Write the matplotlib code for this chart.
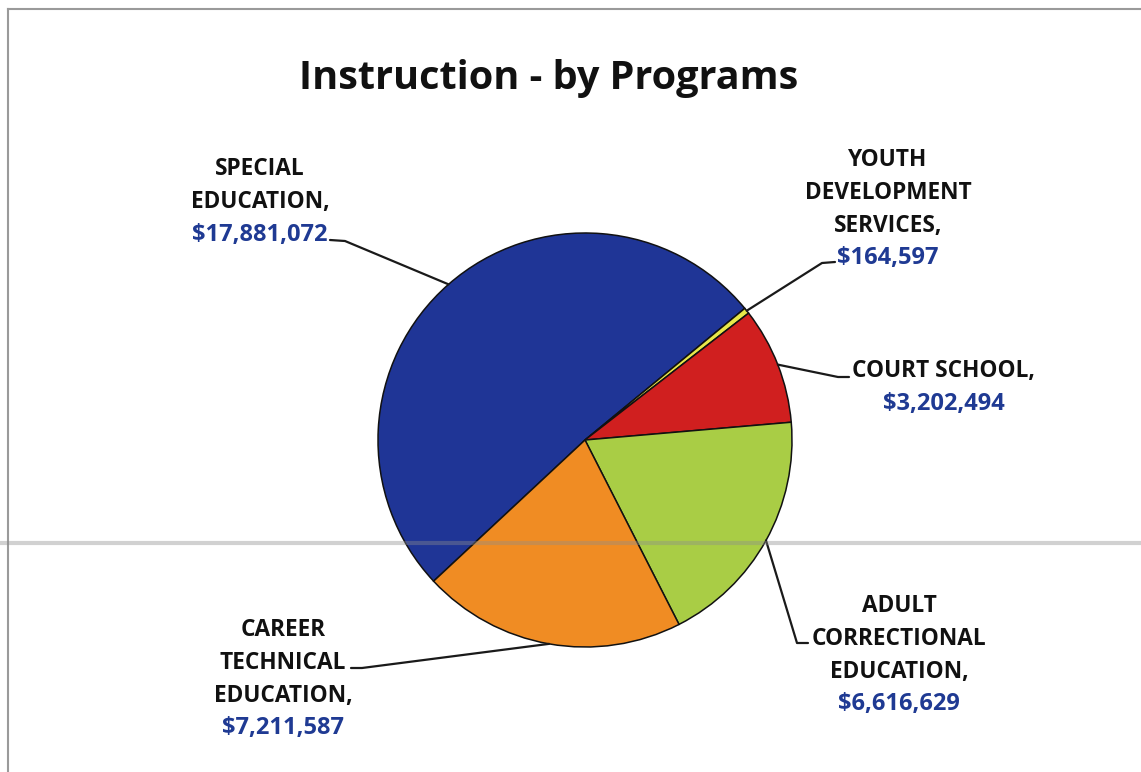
import numpy as np
import matplotlib
matplotlib.use('Agg')
import matplotlib.pyplot as plt

# ============================================================
# Data
# ============================================================

programs = [
    ['SPECIAL', 'EDUCATION,'],
    ['YOUTH', 'DEVELOPMENT', 'SERVICES,'],
    ['COURT SCHOOL,'],
    ['ADULT', 'CORRECTIONAL', 'EDUCATION,'],
    ['CAREER', 'TECHNICAL', 'EDUCATION,'],
]
amounts = [17881072, 164597, 3202494, 6616629, 7211587]
colors = ['#1F3596', '#E8E84A', '#D01F1F', '#A9CD45', '#F08C23']

# ============================================================
# Layout (pixel positions on a 1141x772 canvas)
# ============================================================

W, H = 1141, 772
CX, CY, R = 585, 440, 207
START = 223.0

# label line centres: (x, first line y)
label_pos = [(260, 167), (888, 158), (944, 369), (899, 604), (283, 628)]
LINE_STEP = 32.8
# leader line: end near label, elbow
leader_pts = [
    ((330, 240), (345, 241)),
    ((835, 262), (822, 263)),
    ((849, 377), (838, 377)),
    ((808, 643), (797, 643)),
    ((351, 668), (362, 668)),
]

BLACK = '#111111'
VALUE_BLUE = '#1F3A93'
FONT = 'Open Sans'
NAME_SIZE = 16.3
VALUE_SIZE = 17.0


def px(x, y):
    return (x - CX) / R, (CY - y) / R


fig = plt.figure(figsize=(W / 100, H / 100), dpi=100)
fig.patch.set_facecolor('white')
ax = fig.add_axes([0, 0, 1, 1])

wedges, _ = ax.pie(amounts, colors=colors, startangle=START, counterclock=False,
                   radius=1.0,
                   wedgeprops=dict(edgecolor='#111111', linewidth=1.1))
ax.set_xlim((0 - CX) / R, (W - CX) / R)
ax.set_ylim((CY - H) / R, CY / R)
ax.set_aspect('auto')
ax.axis('off')

# ============================================================
# Labels and leader lines
# ============================================================

for w, lines, val, (lx, ly), (end, elbow) in zip(wedges, programs, amounts,
                                                  label_pos, leader_pts):
    ang = np.deg2rad((w.theta1 + w.theta2) / 2)
    ex, ey = np.cos(ang), np.sin(ang)
    x1, y1 = px(*elbow)
    x2, y2 = px(*end)
    ax.plot([ex, x1, x2], [ey, y1, y2], color='#1A1A1A', lw=1.6,
            solid_capstyle='round', zorder=3)

    all_lines = lines + [f'${val:,}']
    for i, txt in enumerate(all_lines):
        is_val = i == len(all_lines) - 1
        tx, ty = px(lx, ly + i * LINE_STEP + 8)
        ax.text(tx, ty, txt, ha='center', va='baseline',
                fontsize=VALUE_SIZE if is_val else NAME_SIZE,
                fontweight='bold', family=FONT,
                color=VALUE_BLUE if is_val else BLACK)

# title
tx, ty = px(549, 89)
ax.text(tx, ty, 'Instruction - by Programs', ha='center', va='baseline',
        fontsize=28.5, fontweight='bold', family=FONT, color='#111111')

# ============================================================
# Frame lines
# ============================================================

fig.add_artist(plt.Line2D([8 / W, 1], [1 - 9 / H, 1 - 9 / H],
                          color='#9A9A9A', lw=1.5))
fig.add_artist(plt.Line2D([8 / W, 8 / W], [0, 1 - 9 / H],
                          color='#9A9A9A', lw=1.5))
fig.add_artist(plt.Line2D([0, 1], [1 - 543 / H, 1 - 543 / H],
                          color='#8C8C8C', lw=3, alpha=0.4))

fig.savefig('out.png', dpi=100, facecolor='white')
